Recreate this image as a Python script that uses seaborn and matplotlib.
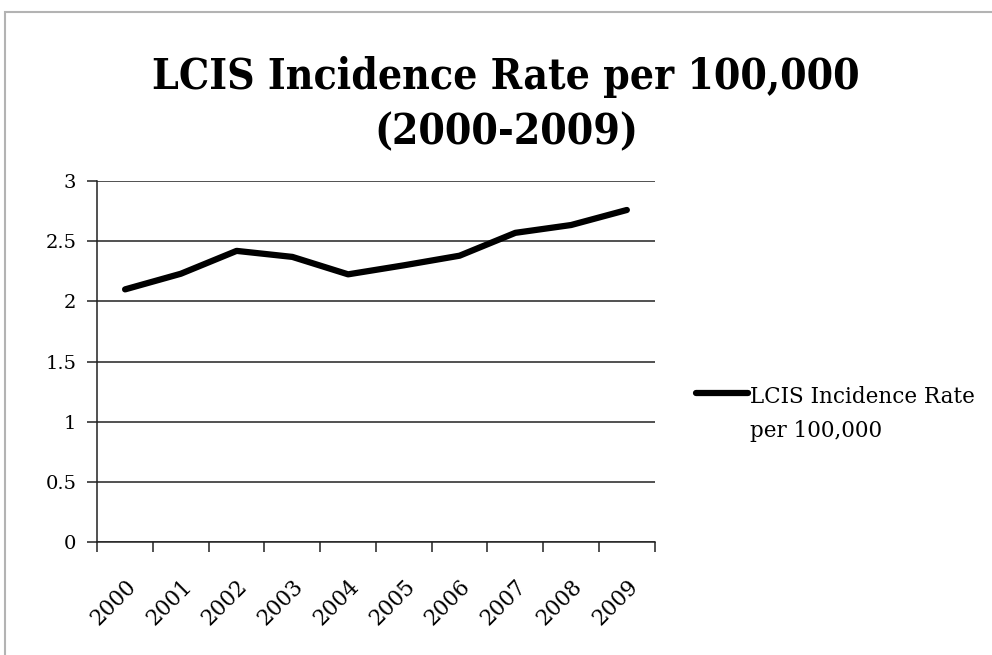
import numpy as np
import pandas as pd
import matplotlib
matplotlib.use("Agg")
import matplotlib.pyplot as plt
import seaborn as sns
from matplotlib.patches import Rectangle

# données
years = [2000, 2001, 2002, 2003, 2004, 2005, 2006, 2007, 2008, 2009]
rates = [2.10, 2.23, 2.42, 2.37, 2.225, 2.30, 2.38, 2.57, 2.635, 2.76]
serie = "LCIS Incidence Rate\nper 100,000"

df = pd.DataFrame({"year": years, "rate": rates, "serie": serie})

sns.set_style("white")
plt.rcParams["font.family"] = ["DejaVu Serif"]
plt.rcParams["text.color"] = "black"
plt.rcParams["xtick.color"] = "black"
plt.rcParams["ytick.color"] = "black"

fig = plt.figure(figsize=(9.92, 6.55), dpi=100)
ax = fig.add_axes([0.098, 0.1725, 0.562, 0.551])

# cadre gris autour du graphique
fig.patches.append(Rectangle((5 / 992, -0.01), 1.0, 1 - 12 / 655 + 0.01,
                             transform=fig.transFigure, fill=False,
                             edgecolor="#b3b3b3", lw=1.5))

sns.lineplot(data=df, x="year", y="rate", hue="serie", palette=["black"],
             lw=4.5, ax=ax)

ax.set_xlim(1999.5, 2009.5)
ax.set_ylim(0, 3)
ax.set_yticks(np.arange(0, 3.01, 0.5))
ax.set_yticklabels(["0", "0.5", "1", "1.5", "2", "2.5", "3"])
ax.yaxis.grid(True, color="#222222", lw=1.1)
ax.set_axisbelow(True)

ax.set_xticks(years)
ax.set_xticklabels([str(y) for y in years], rotation=45, ha="right",
                   rotation_mode="anchor")
ax.set_xticks(np.arange(1999.5, 2010, 1), minor=True)
ax.tick_params(axis="x", which="major", length=0, pad=24, labelsize=15.5)
ax.tick_params(axis="x", which="minor", length=7, width=1.1, color="#222222",
               direction="out", bottom=True)
ax.tick_params(axis="y", length=7, width=1.1, color="#222222", direction="out",
               left=True, labelsize=14, pad=8)
ax.set_xlabel("")
ax.set_ylabel("")

for s in ["top", "right"]:
    ax.spines[s].set_visible(False)
for s in ["left", "bottom"]:
    ax.spines[s].set_color("#222222")
    ax.spines[s].set_linewidth(1.1)

leg = ax.legend(loc="center left", bbox_to_anchor=(1.04, 0.355), frameon=False,
                fontsize=15.5, handlelength=2.4, handletextpad=0.1)
leg.get_texts()[0].set_linespacing(1.7)
# aligner le trait sur la première ligne du texte
ln = leg.get_lines()[0]
ln.set_ydata(np.asarray(ln.get_ydata()) + 15.5)

fig.suptitle("LCIS Incidence Rate per 100,000\n(2000-2009)", x=0.51, y=0.914,
             fontsize=30.5, fontweight="bold", fontstretch="condensed",
             linespacing=1.38, va="top")

fig.savefig("out.png", dpi=100)
